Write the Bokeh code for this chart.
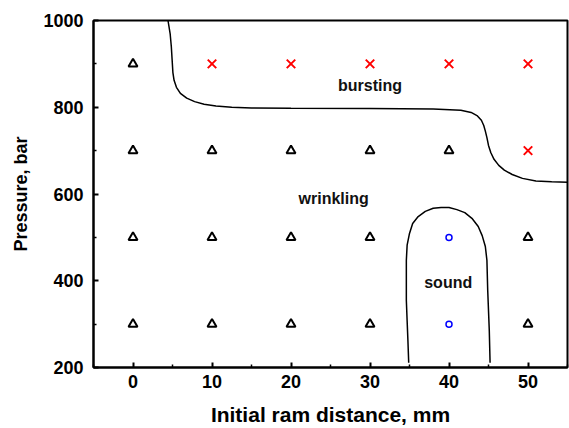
from bokeh.plotting import figure
from bokeh.models import FixedTicker, Range1d, Label
from bokeh.embed import file_html
from bokeh.resources import INLINE

# --- data ---
tri_x = [0, 0, 0, 0, 10, 10, 10, 20, 20, 20, 30, 30, 30, 40, 50, 50]
tri_y = [300, 500, 700, 900, 300, 500, 700, 300, 500, 700, 300, 500, 700, 700, 300, 500]
burst_x = [10, 20, 30, 40, 50, 50]
burst_y = [900, 900, 900, 900, 900, 700]
sound_x = [40, 40]
sound_y = [300, 500]

# boundary: wrinkling / bursting
b1_x = [4.43, 4.7, 4.85, 4.95, 5.05, 5.2, 5.5, 6.0, 6.8, 7.8, 9.0, 10.5, 12.5, 15, 20, 30, 38, 41.5,
        42.8, 43.6, 44.1, 44.4, 44.6, 44.8, 45.0, 45.3, 45.7, 46.3, 47.0, 48.0, 49.3, 51, 53, 55]
b1_y = [1000, 970, 940, 910, 880, 862, 846, 832, 821, 813, 807, 803, 800, 798.5, 797.5, 797, 796, 793,
        788, 780, 770, 758, 745, 730, 712, 695, 680, 666, 655, 645, 636, 630, 628, 627]
# boundary: sound region
b2_x = [34.9, 34.8, 34.7, 34.6, 34.6, 34.7, 35.0, 35.4, 36.1, 37.0, 38.0, 39.0, 40.0, 41.0, 42.0,
        42.9, 43.7, 44.2, 44.6, 44.8, 44.9, 45.1, 45.2]
b2_y = [211, 262, 308, 355, 447, 482, 509, 532, 548, 560, 567, 569, 569, 564, 557,
        544, 525, 504, 479, 447, 378, 285, 211]

region_names = ["bursting", "wrinkling", "sound"]
region_x = [30, 25.4, 39.9]
region_y = [850, 590, 396]

x_ticks = [0, 10, 20, 30, 40, 50]
x_minor = [-5, 5, 15, 25, 35, 45, 55]
y_ticks = [200, 400, 600, 800, 1000]
y_minor = [300, 500, 700, 900]

FONT = "Liberation Sans"

p = figure(width=569, height=428, output_backend="svg", toolbar_location=None,
           x_range=Range1d(-5, 55), y_range=Range1d(200, 1000),
           min_border_left=93, min_border_right=2, min_border_top=20, min_border_bottom=61,
           x_axis_label="Initial ram distance, mm", y_axis_label="Pressure, bar")
p.grid.visible = False
p.outline_line_color = "black"
p.outline_line_width = 2
p.outline_line_alpha = 1.0

for ax in [p.xaxis[0], p.yaxis[0]]:
    ax.axis_line_width = 2
    ax.major_tick_in = 5
    ax.major_tick_out = 0
    ax.minor_tick_in = 3
    ax.minor_tick_out = 0
    ax.major_tick_line_width = 2
    ax.minor_tick_line_width = 1.5
    ax.major_label_text_font = FONT
    ax.major_label_text_font_style = "bold"
    ax.major_label_text_font_size = "18px"
    ax.major_label_text_color = "black"
    ax.axis_label_text_font = FONT
    ax.axis_label_text_font_style = "bold"
    ax.axis_label_text_color = "black"

p.xaxis.axis_label_text_font_size = "21px"
p.yaxis.axis_label_text_font_size = "18px"
p.xaxis.ticker = FixedTicker(ticks=x_ticks, minor_ticks=x_minor)
p.yaxis.ticker = FixedTicker(ticks=y_ticks, minor_ticks=y_minor)
p.xaxis.major_label_standoff = 7
p.yaxis.major_label_standoff = 10
p.xaxis.axis_label_standoff = 12
p.yaxis.axis_label_standoff = 9

p.line(b1_x, b1_y, line_color="black", line_width=1.5)
p.line(b2_x, b2_y, line_color="black", line_width=1.5)

p.scatter(tri_x, tri_y, marker="triangle", size=9, fill_color=None, line_color="black", line_width=2)
p.scatter(burst_x, burst_y, marker="x", size=12, line_color="red", line_width=2)
p.scatter(sound_x, sound_y, marker="circle", size=6, fill_color=None, line_color="blue", line_width=1.5)

for name, tx, ty in zip(region_names, region_x, region_y):
    p.add_layout(Label(x=tx, y=ty, text=name, text_align="center", text_baseline="middle",
                       text_font=FONT, text_font_style="bold", text_font_size="16px", text_color="#111111"))

open("out.html", "w").write(file_html(p, INLINE))
